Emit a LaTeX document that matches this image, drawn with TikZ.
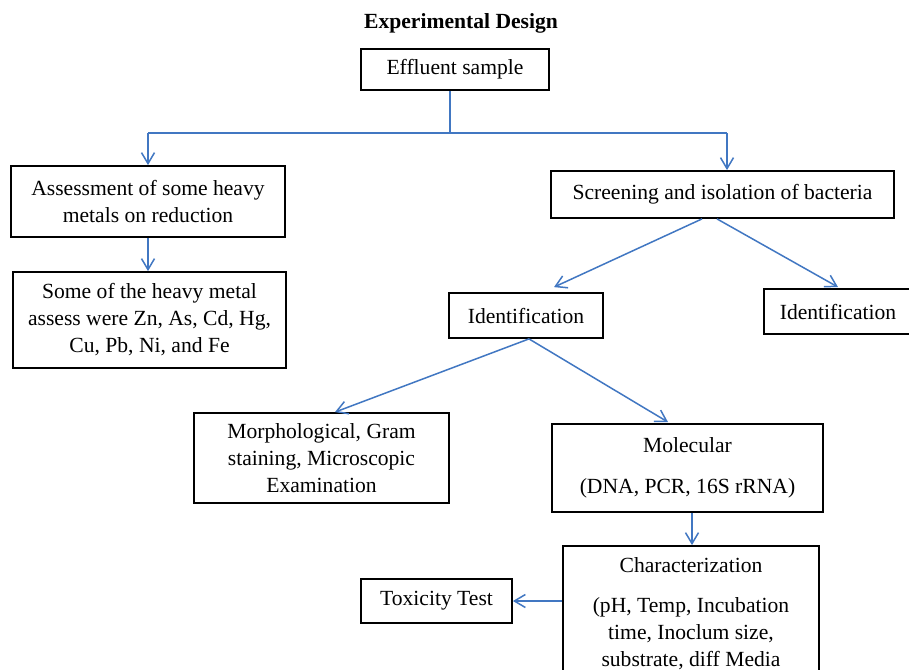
\documentclass[tikz,border=0pt]{standalone}
\usepackage{fontspec}
\setmainfont{Liberation Serif}
\usepackage{tikz}
\usetikzlibrary{arrows.meta,positioning,calc}
\definecolor{linkblue}{HTML}{4177C2}
\tikzset{
  block/.style      = {draw=black, line width=0.9pt, fill=white, inner sep=0pt, align=center},
  sig/.style        = {-{Straight Barb[length=5.5pt,width=6.5pt,line width=0.75pt]}, draw=linkblue, line width=0.75pt},
  wire/.style       = {draw=linkblue, line width=0.75pt},
  every node/.style = {font=\fontsize{10.8}{13.5}\selectfont},
  heading/.style    = {font=\fontsize{10.8}{13.5}\selectfont\bfseries, inner sep=0pt},
}

\begin{document}
\begin{tikzpicture}[x=0.5pt, y=-0.5pt]
  \path[fill=white, use as bounding box] (0,0) rectangle (909,669);

  \node[heading, anchor=base] (title) at (461,28) {Experimental Design};

  % boxes
  \node[block, minimum width=94pt, minimum height=20.5pt] (effluent) at (455,69.5) {Effluent sample};
  \node[block, minimum width=137pt, minimum height=35.5pt] (assess) at (148,201.5)
    {Assessment of some heavy\\metals on reduction};
  \node[block, minimum width=171.5pt, minimum height=23.5pt] (screen) at (722.5,194.5)
    {Screening and isolation of bacteria};
  \node[block, minimum width=136.5pt, minimum height=48pt] (metals) at (149.5,320)
    {Some of the heavy metal\\assess were Zn, As, Cd, Hg,\\Cu, Pb, Ni, and Fe};
  \node[block, minimum width=77pt, minimum height=22.5pt] (ident) at (526,315.5) {Identification};
  \node[block, minimum width=74pt, minimum height=22.5pt] (identR) at (838,311.5) {Identification};
  \node[block, minimum width=127.5pt, minimum height=45pt] (morph) at (321.5,458)
    {Morphological, Gram\\staining, Microscopic\\Examination};
  \node[block, minimum width=135.5pt, minimum height=44pt] (molec) at (687.5,468)
    {Molecular\\[7pt](DNA, PCR, 16S rRNA)};
  \node[block, minimum width=128pt, minimum height=68pt] (charact) at (691,614)
    {Characterization\\[6.5pt](pH, Temp, Incubation\\time, Inoclum size,\\substrate, diff Media};
  \node[block, minimum width=75.5pt, minimum height=22pt] (toxic) at (436.5,601) {Toxicity Test};

  % connectors
  \coordinate (split) at (450,133);
  \coordinate (lft) at (148,133);
  \coordinate (rgt) at (727,133);
  \draw[wire] (split |- effluent.south) -- (split);
  \draw[wire] (lft) -- (rgt);
  \draw[sig] (lft) -- (lft |- assess.north);
  \draw[sig] (rgt) -- (rgt |- screen.north);
  \draw[sig] (assess.south) -- (assess.south |- metals.north);
  \draw[sig] ($(screen.south)+(-20.5,0)$) -- ($(ident.north)+(28,-5)$);
  \draw[sig] ($(screen.south)+(-5.5,0)$) -- ($(identR.north)+(0,-1)$);
  \draw[sig] ($(ident.south)+(3,0)$) -- ($(morph.north)+(13.5,0)$);
  \draw[sig] ($(ident.south)+(3,0)$) -- ($(molec.north)+(-19.5,-1)$);
  \draw[sig] ($(molec.south)+(4.5,0)$) -- ($(charact.north)+(1,0)$);
  \draw[sig] (charact.west |- toxic.east) -- (toxic.east);
\end{tikzpicture}
\end{document}
